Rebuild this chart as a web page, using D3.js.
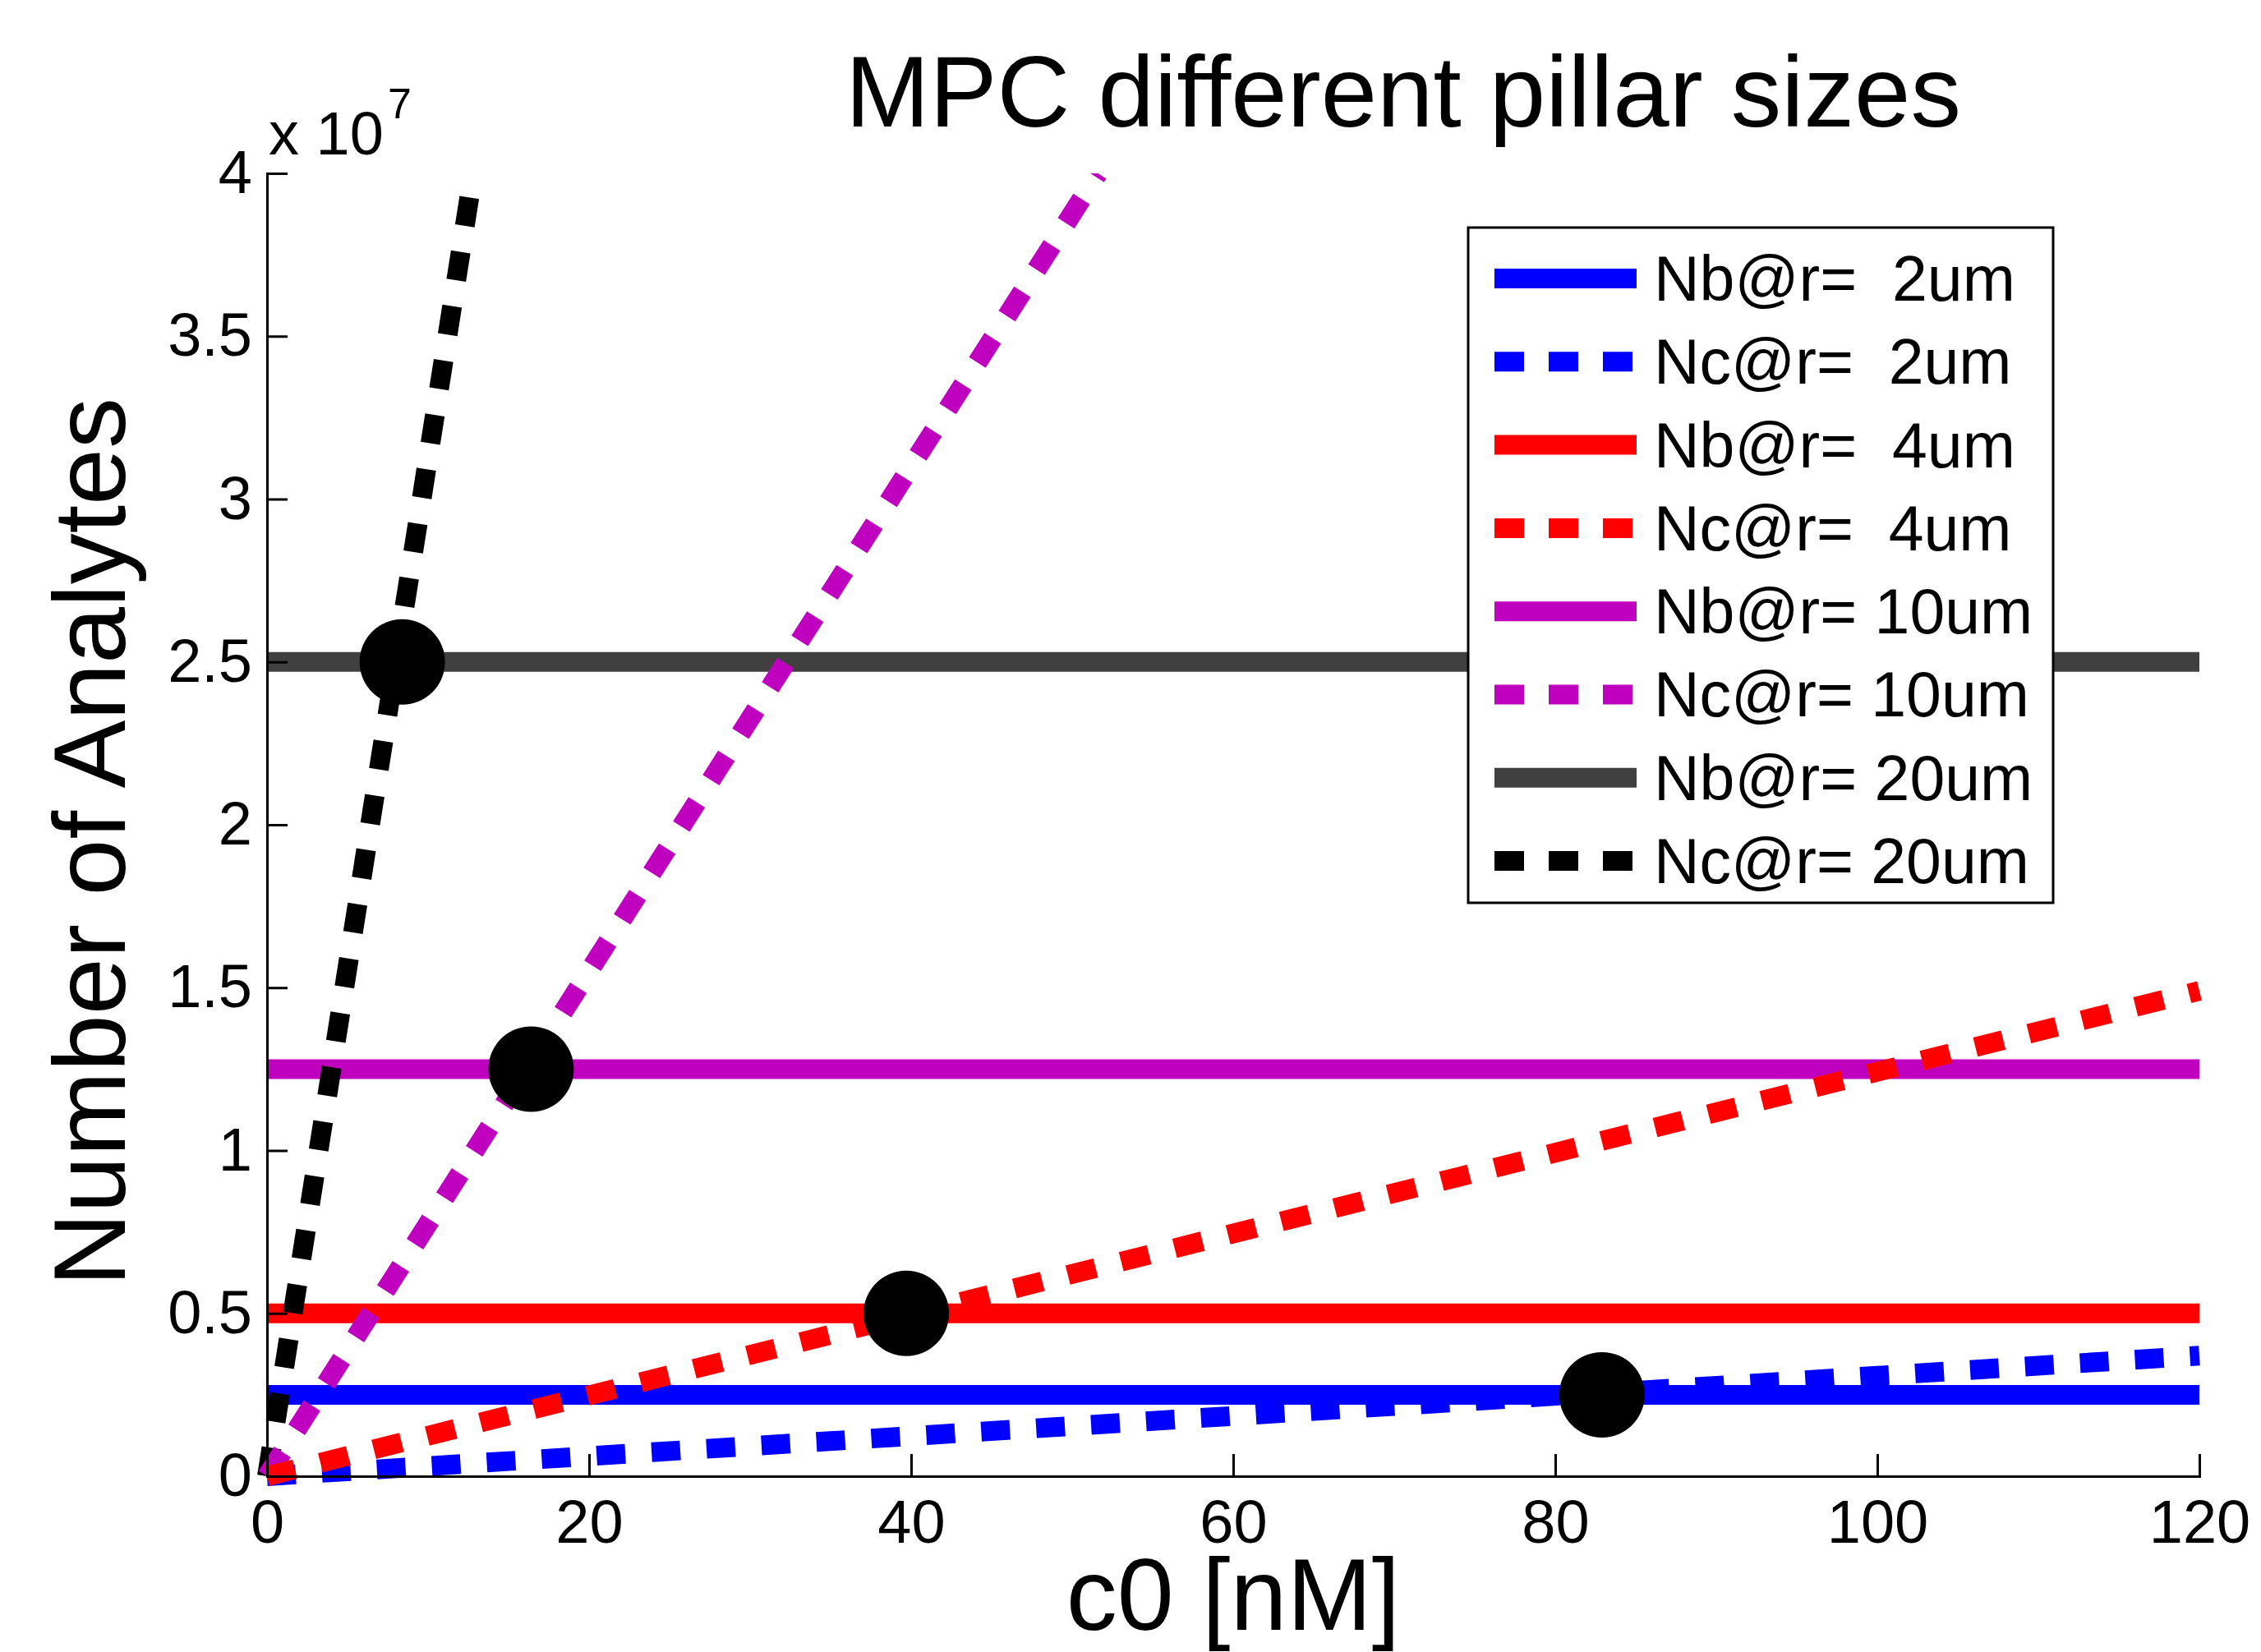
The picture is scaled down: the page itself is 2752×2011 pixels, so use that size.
<!DOCTYPE html>
<html>
<head>
<meta charset="utf-8">
<script src="https://cdn.jsdelivr.net/npm/d3@7"></script>
<style>
	body { margin: 0; background: #fff; }
	svg { display: block; font-family: 'Liberation Sans', Arial, sans-serif; }
	.axis path, .axis line { stroke: #000; stroke-width: 3; }
	.axis text { font-size: 74px; fill: #000; font-family: 'Liberation Sans', Arial, sans-serif; }
</style>
</head>
<body>
<script>
// pillar radius [um] for each pair of curves
var radii = [2, 4, 10, 20];
// Nb: flat, does not depend on c0
var nbCounts = [0.25e7, 0.5e7, 1.25e7, 2.5e7];
// Nc: straight from the origin, end points
var ncEndC0 = [120, 120, 51.6, 12.8];
var ncEndCounts = [0.37e7, 1.49e7, 4.0e7, 4.0e7];
// black dots where Nc meets Nb
var crossC0 = [82.9, 39.7, 16.4, 8.4];
var crossCounts = [0.25e7, 0.5e7, 1.25e7, 2.5e7];

var legendLabels = ['Nb@r=  2um', 'Nc@r=  2um', 'Nb@r=  4um', 'Nc@r=  4um',
	'Nb@r= 10um', 'Nc@r= 10um', 'Nb@r= 20um', 'Nc@r= 20um'];
var xTicks = [0, 20, 40, 60, 80, 100, 120];
var yTicks = [0, 0.5e7, 1e7, 1.5e7, 2e7, 2.5e7, 3e7, 3.5e7, 4e7];
var yTickLabels = ['0', '0.5', '1', '1.5', '2', '2.5', '3', '3.5', '4'];

function PillarChart() {
	this.chart = {};

	// SVG properties
	this.props = {};
	this.props.outerWidth = 2752;
	this.props.outerHeight = 2011;
	this.props.margin = {
		top: 211,
		right: 75,
		bottom: 214,
		left: 325
	};
	this.props.width = this.props.outerWidth - this.props.margin.left - this.props.margin.right;
	this.props.height = this.props.outerHeight - this.props.margin.top - this.props.margin.bottom;

	this.props.nbColors = ['#0000ff', '#ff0000', '#bf00bf', '#404040'];
	this.props.ncColors = ['#0000ff', '#ff0000', '#bf00bf', '#000000'];
	this.props.lineWidth = 24;
	this.props.dash = '35,32';
}

PillarChart.prototype.createChart = function() {
	this.chart.root = d3.select('body')
		.append('svg')
			.attr('width', this.props.outerWidth)
			.attr('height', this.props.outerHeight);

	this.chart.svg = this.chart.root.append('g')
		.attr('transform', 'translate(' + this.props.margin.left + ',' + this.props.margin.top + ')');

	// only clip at the top, like the original plot
	this.chart.svg.append('clipPath')
		.attr('id', 'plot-clip')
		.append('rect')
			.attr('x', -40)
			.attr('y', 0)
			.attr('width', this.props.width + 80)
			.attr('height', this.props.height + 40);

	this.chart.x = d3.scaleLinear()
		.domain([0, 120])
		.range([0, this.props.width]);
	this.chart.y = d3.scaleLinear()
		.domain([0, 4e7])
		.range([this.props.height, 0]);
}

PillarChart.prototype.addAxes = function() {
	var xAxis = d3.axisBottom(this.chart.x)
		.tickValues(xTicks)
		.tickFormat(d3.format('d'))
		.tickSizeInner(-27)
		.tickSizeOuter(0)
		.tickPadding(28);

	var yAxis = d3.axisLeft(this.chart.y)
		.tickValues(yTicks)
		.tickFormat(function(d, i) {
			return yTickLabels[i];
		})
		.tickSizeInner(-25)
		.tickSizeOuter(0)
		.tickPadding(18);

	this.chart.svg.append('g')
		.attr('class', 'x axis')
		.attr('transform', 'translate(0,' + this.props.height + ')')
		.call(xAxis);

	this.chart.svg.append('g')
		.attr('class', 'y axis')
		.call(yAxis);

	this.chart.svg.selectAll('.axis .domain')
		.attr('stroke-linecap', 'square');

	// exponent above the y axis
	this.chart.root.append('text')
		.attr('x', 327)
		.attr('y', 188)
		.style('font-size', '74px')
		.text('x 10');
	this.chart.root.append('text')
		.attr('x', 472)
		.attr('y', 144)
		.style('font-size', '52px')
		.text('7');
}

PillarChart.prototype.addLabels = function() {
	this.chart.root.append('text')
		.attr('x', 1708)
		.attr('y', 154)
		.style('font-size', '123px')
		.style('text-anchor', 'middle')
		.text('MPC different pillar sizes');

	this.chart.root.append('text')
		.attr('transform', 'translate(152,1025) rotate(-90)')
		.style('font-size', '124px')
		.style('text-anchor', 'middle')
		.text('Number of Analytes');

	// a bit higher than the original so the brackets are not cut
	this.chart.root.append('text')
		.attr('x', this.props.margin.left + this.props.width / 2)
		.attr('y', 1984)
		.style('font-size', '124px')
		.style('text-anchor', 'middle')
		.text('c0 [nM]');
}

PillarChart.prototype.addLines = function() {
	var that = this;
	var line = d3.line()
		.x(function(d) { return that.chart.x(d[0]); })
		.y(function(d) { return that.chart.y(d[1]); });

	var plot = this.chart.svg.append('g')
		.attr('clip-path', 'url(#plot-clip)');

	// flat Nb lines first
	nbCounts.forEach(function(n, i) {
		plot.append('path')
			.attr('d', line([[0, n], [120, n]]))
			.attr('fill', 'none')
			.attr('stroke', that.props.nbColors[i])
			.attr('stroke-width', that.props.lineWidth);
	});

	// then the dashed Nc lines
	[3, 2, 0, 1].forEach(function(i) {
		plot.append('path')
			.attr('d', line([[0, 0], [ncEndC0[i], ncEndCounts[i]]]))
			.attr('fill', 'none')
			.attr('stroke', that.props.ncColors[i])
			.attr('stroke-width', that.props.lineWidth)
			.attr('stroke-dasharray', that.props.dash);
	});

	this.chart.svg.selectAll('.cross')
		.data(crossC0)
		.enter()
		.append('circle')
			.attr('class', 'cross')
			.attr('r', 52)
			.attr('fill', '#000')
			.attr('cx', function(d) {
				return that.chart.x(d);
			})
			.attr('cy', function(d, i) {
				return that.chart.y(crossCounts[i]);
			});
}

PillarChart.prototype.addLegend = function() {
	var that = this;
	var legend = this.chart.root.append('g')
		.attr('class', 'legend');

	legend.append('rect')
		.attr('x', 1787)
		.attr('y', 277)
		.attr('width', 712)
		.attr('height', 822)
		.attr('fill', '#fff')
		.attr('stroke', '#000')
		.attr('stroke-width', 3);

	var rows = legend.selectAll('.legend-row')
		.data(legendLabels)
		.enter()
		.append('g')
			.attr('class', 'legend-row')
			.attr('transform', function(d, i) {
				return 'translate(0,' + (339 + i * 101.3) + ')';
			});

	rows.append('line')
		.attr('x1', 1819)
		.attr('x2', 1992)
		.attr('stroke', function(d, i) {
			var k = Math.floor(i / 2);
			return i % 2 === 0 ? that.props.nbColors[k] : that.props.ncColors[k];
		})
		.attr('stroke-width', this.props.lineWidth)
		.attr('stroke-dasharray', function(d, i) {
			return i % 2 === 0 ? null : '36,30';
		});

	rows.append('text')
		.attr('x', 2013)
		.attr('dy', '0.35em')
		.style('font-size', '77px')
		.style('white-space', 'pre')
		.text(function(d) {
			return d;
		});
}

var chart = new PillarChart();
chart.createChart();
chart.addLines();
chart.addAxes();
chart.addLabels();
chart.addLegend();
</script>
</body>
</html>
